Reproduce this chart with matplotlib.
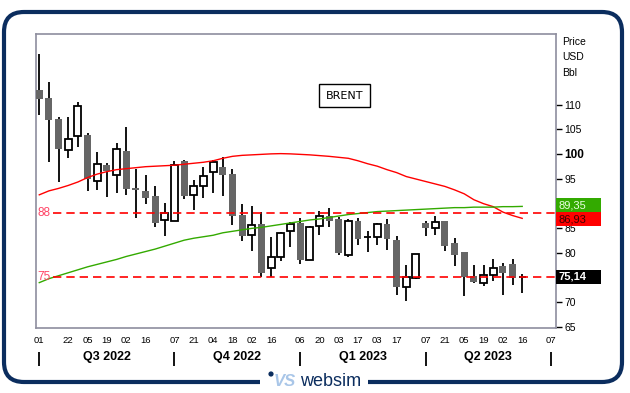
import numpy as np
import pandas as pd
import matplotlib
matplotlib.use('Agg')
import matplotlib.pyplot as plt
import matplotlib.transforms as mtransforms
from matplotlib.patches import FancyBboxPatch, Rectangle, Circle

plt.rcParams['font.family'] = ['Liberation Sans', 'DejaVu Sans']

# weekly Brent candles, week ending friday
first_week = '2022-07-01'
opens  = [112.85, 111.4, 107.0, 100.7, 103.7, 103.8, 94.4, 97.7, 95.7, 100.5,
          93.05, 92.4, 91.4, 86.5, 86.4, 98.6, 91.6, 93.45, 96.4, 97.3,
          95.9, 87.6, 83.5, 85.7, 76.8, 79.0, 84.3, 86.0, 78.5, 85.3,
          87.5, 86.7, 79.4, 86.4, 83.05, 83.1, 85.8, 82.5, 73.0, 74.9,
          86.0, 84.9, 86.4, 81.9, 80.1, 75.2, 73.9, 75.5, 77.3, 77.6, 75.0]
highs  = [120.3, 114.6, 107.5, 107.5, 110.6, 104.3, 100.3, 98.1, 102.3, 105.4,
          96.9, 95.7, 93.45, 90.0, 98.5, 98.7, 94.7, 97.3, 98.8, 99.45,
          96.9, 89.8, 89.4, 88.3, 83.15, 84.2, 86.2, 86.9, 85.3, 88.4,
          89.0, 87.3, 86.7, 86.9, 84.3, 85.9, 86.7, 83.35, 77.5, 79.65,
          86.4, 87.4, 86.4, 82.95, 80.1, 77.4, 77.4, 78.7, 77.8, 78.6, 75.6]
lows   = [107.8, 98.4, 94.3, 99.2, 101.4, 92.5, 92.7, 91.3, 92.0, 91.7,
          87.0, 89.9, 85.2, 83.4, 86.3, 90.9, 88.7, 91.1, 92.1, 91.5,
          85.6, 82.3, 80.4, 75.0, 75.0, 78.2, 81.2, 77.6, 78.4, 83.6,
          85.2, 79.4, 79.0, 81.6, 80.2, 81.6, 80.6, 71.3, 70.2, 74.7,
          83.4, 83.6, 80.3, 77.2, 71.1, 73.9, 73.3, 74.3, 71.3, 73.5, 71.8]
closes = [111.2, 106.9, 100.9, 103.1, 109.75, 94.9, 98.0, 96.55, 100.9, 92.9,
          92.7, 91.0, 86.05, 88.0, 97.8, 91.5, 93.4, 95.6, 98.4, 95.7,
          87.5, 83.4, 85.5, 75.9, 79.0, 83.9, 85.7, 78.4, 85.1, 87.5,
          86.45, 79.85, 86.3, 82.8, 83.15, 85.7, 82.7, 73.0, 75.0, 79.65,
          85.0, 86.2, 81.3, 79.4, 75.0, 74.1, 75.4, 76.8, 75.9, 74.9, 75.14]

# moving averages (red = short, green = long)
ma_red = [91.7, 92.5, 93.0, 93.6, 94.3, 95.2, 95.9, 96.4, 96.8, 97.0,
          97.2, 97.4, 97.5, 97.6, 97.7, 97.9, 98.1, 98.3, 98.6, 99.1,
          99.5, 99.7, 99.8, 99.9, 100.0, 100.05, 100.0, 99.9, 99.8, 99.65,
          99.5, 99.3, 99.1, 98.6, 98.0, 97.5, 96.8, 96.2, 95.4, 94.9,
          94.4, 93.9, 93.4, 92.7, 91.9, 90.7, 89.9, 89.3, 88.2, 87.5, 86.93]
ma_green = [73.9, 74.7, 75.3, 75.9, 76.5, 77.1, 77.6, 78.1, 78.6, 79.2,
            79.7, 80.2, 80.7, 81.3, 81.9, 82.5, 82.9, 83.2, 83.5, 84.0,
            84.3, 84.6, 84.9, 85.1, 85.4, 85.7, 86.0, 86.3, 86.6, 86.8,
            87.1, 87.4, 87.7, 87.9, 88.1, 88.3, 88.4, 88.5, 88.6, 88.7,
            88.8, 88.9, 89.0, 89.1, 89.1, 89.2, 89.2, 89.2, 89.3, 89.3, 89.35]

levels = [88, 75]
ma_red_last = 86.93
ma_green_last = 89.35
last_price = 75.14

tick_dates = ['2022-07-01', '2022-07-22', '2022-08-05', '2022-08-19', '2022-09-02', '2022-09-16',
              '2022-10-07', '2022-10-21', '2022-11-04', '2022-11-18', '2022-12-02', '2022-12-16',
              '2023-01-06', '2023-01-20', '2023-02-03', '2023-02-17', '2023-03-03', '2023-03-17',
              '2023-04-07', '2023-04-21', '2023-05-05', '2023-05-19', '2023-06-02', '2023-06-16',
              '2023-07-07']
quarter_starts = ['2022-07-01', '2022-10-07', '2023-01-06', '2023-04-07', '2023-07-07']
quarter_names = ['Q3 2022', 'Q4 2022', 'Q1 2023', 'Q2 2023']
price_ticks = [65, 70, 75, 80, 85, 90, 95, 100, 105, 110]
hidden_ticks = [75, 90]   # covered by the value boxes

W, H = 630, 393
fig = plt.figure(figsize=(W / 100, H / 100), dpi=100)
fig.patch.set_facecolor('white')
ax = fig.add_axes([36 / W, 1 - 328 / H, 520 / W, 294 / H])

t0 = pd.Timestamp(first_week)
def widx(d):
    return (pd.Timestamp(d) - t0).days / 7.0

x = np.arange(len(opens))
o = np.array(opens); c = np.array(closes)
up = c >= o

# wicks
ax.vlines(x, lows, highs, color='black', lw=1.3, zorder=2)
# bodies
bw = 0.72
ax.bar(x[~up], (o - c)[~up], bottom=c[~up], width=bw, color='#666666', lw=0, zorder=3)
ax.bar(x[up], np.maximum((c - o)[up], 0.05), bottom=o[up], width=bw, facecolor='white',
       edgecolor='black', lw=1.3, zorder=3)

# moving averages
ax.plot(x, ma_red, color='#ff0000', lw=1.0, zorder=4)
ax.plot(x, ma_green, color='#33aa00', lw=1.0, zorder=4)

# support/resistance levels
for lv in levels:
    ax.axhline(lv, xmin=0.033, xmax=1, color='#ff0000', lw=1.2, ls=(0, (5, 3)), zorder=4)
    ax.text(0.003, lv, str(lv), transform=ax.get_yaxis_transform(), color='#ff4466',
            fontsize=8.5, va='center', ha='left', zorder=5)

ax.set_xlim(-0.34, 53.5)
ax.set_ylim(64.7, 124.3)

for s in ax.spines.values():
    s.set_color('#8e8e9e')
    s.set_linewidth(1.2)

ax.yaxis.tick_right()
ax.set_yticks(price_ticks)
ax.set_yticklabels(['' if t in hidden_ticks else str(t) for t in price_ticks])
ax.tick_params(axis='y', length=4, width=1, pad=2, labelsize=7.5, colors='black')
for lbl in ax.get_yticklabels():
    if lbl.get_text() == '100':
        lbl.set_fontweight('bold')
        lbl.set_fontsize(8.5)
ax.set_xticks([])

# date labels and quarters
xt = ax.get_xaxis_transform()
for d in tick_dates:
    ax.text(widx(d), -0.044, pd.Timestamp(d).strftime('%d'), transform=xt,
            ha='center', va='center', fontsize=6.8)
qpos = [widx(d) for d in quarter_starts]
ax.vlines(qpos, -0.082, -0.129, transform=xt, color='black', lw=1.3, clip_on=False)
for i, name in enumerate(quarter_names):
    ax.text((qpos[i] + qpos[i + 1]) / 2, -0.100, name, transform=xt, ha='center',
            va='center', fontsize=9, fontweight='bold')

# BRENT box
ax.text(0.593, 0.79, 'BRENT', transform=ax.transAxes, ha='center', va='center',
        fontsize=8, family='DejaVu Sans',
        bbox=dict(boxstyle='square,pad=0.6', fc='white', ec='black', lw=1))

# unit labels
for txt, yy in zip(['Price', 'USD', 'Bbl'], [42, 57, 73]):
    fig.text(562 / W, 1 - yy / H, txt, fontsize=7.5, va='center', ha='left')

# value boxes on right axis
yt = ax.get_yaxis_transform()
box_h = 14 * (124.3 - 64.7) / 294
g_y, r_y = ma_green_last, ma_red_last
gap = g_y - r_y
if gap < box_h:
    g_y += (box_h - gap) / 2
    r_y -= (box_h - gap) / 2
box_w = 45 / 520
for yv, val, fc, tc, fw in [(g_y, ma_green_last, '#33aa00', '#e8ffe0', 'normal'),
                            (r_y, ma_red_last, '#ff0000', '#3a0000', 'normal'),
                            (last_price, last_price, 'black', 'white', 'bold')]:
    ax.add_patch(Rectangle((1.0, yv - box_h / 2), box_w, box_h, transform=yt,
                           facecolor=fc, lw=0, clip_on=False, zorder=6))
    ax.text(1.004, yv, ('%.2f' % val).replace('.', ','), transform=yt, color=tc,
            fontsize=8, fontweight=fw, va='center', ha='left', zorder=7, clip_on=False)

# frame with logo
ident = mtransforms.IdentityTransform()
fig.patches.append(FancyBboxPatch((4, 11), 618, 370, boxstyle='round,pad=0,rounding_size=20',
                                  transform=ident, fill=False, ec='#0b2d5e', lw=3, zorder=1))
fig.patches.append(Rectangle((260, 4), 108, 14, transform=ident, fc='white', ec='none', zorder=2))
fig.patches.append(Circle((271, 19), 2.6, transform=ident, fc='#0b2d5e', ec='none', zorder=3))
fig.text(285 / W, 1 - 382 / H, 'VS', fontsize=12, fontweight='bold', style='italic',
         color='#a9c6e8', ha='center', va='center', zorder=3)
fig.text(331 / W, 1 - 382 / H, 'websim', fontsize=13, color='#0b2d5e',
         ha='center', va='center', zorder=3)

fig.savefig('out.png', dpi=100, facecolor='white')
